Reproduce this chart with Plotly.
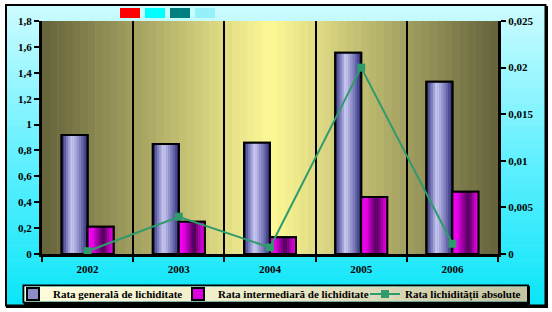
import plotly.graph_objects as go

years = ["2002", "2003", "2004", "2005", "2006"]
rata_generala = [0.92, 0.85, 0.86, 1.555, 1.33]
rata_intermediara = [0.21, 0.25, 0.13, 0.44, 0.48]
rata_absoluta = [0.0003, 0.004, 0.0007, 0.02, 0.0011]

y1_ticks = [0, 0.2, 0.4, 0.6, 0.8, 1, 1.2, 1.4, 1.6, 1.8]
y1_text = ["0", "0,2", "0,4", "0,6", "0,8", "1", "1,2", "1,4", "1,6", "1,8"]
y2_ticks = [0, 0.005, 0.01, 0.015, 0.02, 0.025]
y2_text = ["0", "0,005", "0,01", "0,015", "0,02", "0,025"]

names = ["Rata generală de lichiditate", "Rata intermediară de lichiditate",
         "Rata lichidității absolute"]

W, H = 552, 312
L, R, T, B = 42, 498, 21, 254


def px(x):
    return (x - L) / (R - L)


def py(y):
    return (B - y) / (B - T)


def lerp(c1, c2, t):
    return tuple(int(round(a + (b - a) * t)) for a, b in zip(c1, c2))


def rgb(c):
    return "rgb(%d,%d,%d)" % c


def grad(stops, t):
    for i in range(len(stops) - 1):
        t0, c0 = stops[i]
        t1, c1 = stops[i + 1]
        if t <= t1:
            return lerp(c0, c1, (t - t0) / (t1 - t0) if t1 > t0 else 0)
    return stops[-1][1]


shapes = []


def rect(x0, y0, x1, y1, color, line=None, layer="below"):
    d = dict(type="rect", xref="paper", yref="paper", x0=px(x0), x1=px(x1),
             y0=py(y0), y1=py(y1), fillcolor=color, layer=layer,
             line=dict(width=0) if line is None else line)
    shapes.append(d)


# cyan gradient in bands around the plot area
cyan_stops = [(0, (205, 252, 255)), (0.5, (100, 240, 255)), (1, (10, 230, 248))]
FX0, FX1, FY0, FY1 = 7, 545, 6, 305
n = 40
for i in range(n):
    y0 = FY0 + (FY1 - FY0) * i / n
    y1 = min(FY0 + (FY1 - FY0) * (i + 1) / n + 0.6, FY1)
    col = rgb(grad(cyan_stops, (i + 0.5) / n))
    if y1 <= T or y0 >= B:
        rect(FX0, y0, FX1, y1, col)
    else:
        a, b = max(y0, T), min(y1, B)
        if y0 < T:
            rect(FX0, y0, FX1, T, col)
        if y1 > B:
            rect(FX0, B, FX1, y1, col)
        rect(FX0, a, L, b, col)
        rect(R, a, FX1, b, col)

# small colour swatches (keep the background rendering stable)
rect(120, 8, 140, 18, "red")
rect(145, 8, 165, 18, "rgb(0,255,255)")
rect(170, 8, 190, 18, "rgb(0,128,128)")
rect(195, 8, 215, 18, "rgb(150,240,250)", layer="above")

# plot area gradient (dark olive - light yellow - dark olive)
n = 60
for i in range(n):
    x0 = L + (R - L) * i / n
    x1 = L + (R - L) * (i + 1) / n + 0.6
    c = grad([(0, (100, 98, 58)), (0.5, (255, 250, 150)), (1, (100, 98, 60))], (i + 0.5) / n)
    rect(x0, T, min(x1, R), B, rgb(c))

# outer frame (with shadow on right/bottom)
rect(6, 5, 545.5, 305.5, "rgba(0,0,0,0)", dict(color="black", width=2))
rect(546, 6, 548, 308, "black")
rect(6, 306, 548, 308, "black")

# legend box with shadow + gradient
rect(23.5, 285.5, 528, 302.5, "rgba(0,0,0,0)", dict(color="black", width=2))
rect(528, 286, 530, 305, "black")
rect(24, 303, 530, 305, "black")
n = 30
for i in range(n):
    x0 = 24.5 + (527 - 24.5) * i / n
    x1 = 24.5 + (527 - 24.5) * (i + 1) / n + 0.6
    c = grad([(0, (255, 253, 220)), (0.5, (236, 233, 198)), (1, (196, 196, 162))], (i + 0.5) / n)
    rect(x0, 286.5, min(x1, 527), 301.5, rgb(c))

fig = go.Figure()

BW = 0.285
NS = 12
gen_stops = [(0, (30, 30, 95)), (0.12, (90, 90, 160)), (0.4, (205, 205, 245)),
             (0.75, (115, 115, 180)), (1, (35, 35, 110))]
int_stops = [(0, (255, 0, 255)), (0.2, (230, 0, 230)), (0.6, (70, 0, 80)),
             (0.85, (190, 0, 190)), (1, (240, 0, 240))]

for vals, off, stops, nm, mid, lg in [
    (rata_generala, -BW, gen_stops, names[0], "rgb(140,140,200)", "legend"),
    (rata_intermediara, 0.0, int_stops, names[1], "rgb(220,0,220)", "legend2"),
]:
    fig.add_trace(go.Bar(x=years, y=vals, name=nm, offset=off, width=BW,
                         marker=dict(color=mid, line=dict(color="black", width=2)),
                         showlegend=True, legend=lg, hoverinfo="skip"))
    for i in range(NS):
        c = grad(stops, (i + 0.5) / NS)
        fig.add_trace(go.Bar(x=years, y=vals, offset=off + BW * i / NS,
                             width=BW / NS * 1.08,
                             marker=dict(color=rgb(c), line=dict(width=0)),
                             showlegend=False, hoverinfo="skip"))
    fig.add_trace(go.Bar(x=years, y=vals, offset=off, width=BW,
                         marker=dict(color="rgba(0,0,0,0)", line=dict(color="black", width=2)),
                         showlegend=False, hoverinfo="skip"))

fig.add_trace(go.Scatter(x=years, y=rata_absoluta, yaxis="y2", name=names[2],
                         mode="lines+markers", legend="legend3",
                         line=dict(color="#2f9a6b", width=2),
                         marker=dict(symbol="square", size=8, color="#2f9a6b")))

font = dict(family="Liberation Serif", size=11, color="black", weight="bold")
lfont = dict(family="Liberation Serif", size=11, color="black", weight="bold")


def leg(xpix):
    return dict(orientation="h", x=px(xpix), xanchor="left", y=py(294),
                yanchor="middle", bgcolor="rgba(0,0,0,0)", borderwidth=0,
                font=lfont, itemwidth=30)


fig.update_layout(
    width=W, height=H,
    margin=dict(l=L, r=W - R, t=T, b=H - B, pad=0, autoexpand=False),
    paper_bgcolor="white", plot_bgcolor="rgba(0,0,0,0)",
    barmode="overlay",
    font=font,
    shapes=shapes,
    xaxis=dict(type="category", tickson="boundaries", showgrid=True,
               gridcolor="black", gridwidth=2, showline=True, linecolor="black",
               linewidth=3, ticks="outside", ticklen=5, tickwidth=2,
               tickcolor="black", tickfont=font, range=[-0.5, 4.5],
               ticklabelstandoff=3),
    yaxis=dict(range=[0, 1.8], tickvals=y1_ticks, ticktext=y1_text,
               showgrid=False, zeroline=False, showline=True, linecolor="black",
               linewidth=3, ticks="outside", ticklen=5, tickwidth=2,
               tickcolor="black", tickfont=font),
    yaxis2=dict(range=[0, 0.025], tickvals=y2_ticks, ticktext=y2_text,
                overlaying="y", side="right", showgrid=False, zeroline=False,
                showline=True, linecolor="black", linewidth=3, ticks="outside",
                ticklen=5, tickwidth=2, tickcolor="black", tickfont=font),
    legend=leg(13),
    legend2=leg(178),
    legend3=leg(365),
)

fig.write_html("out.html")
